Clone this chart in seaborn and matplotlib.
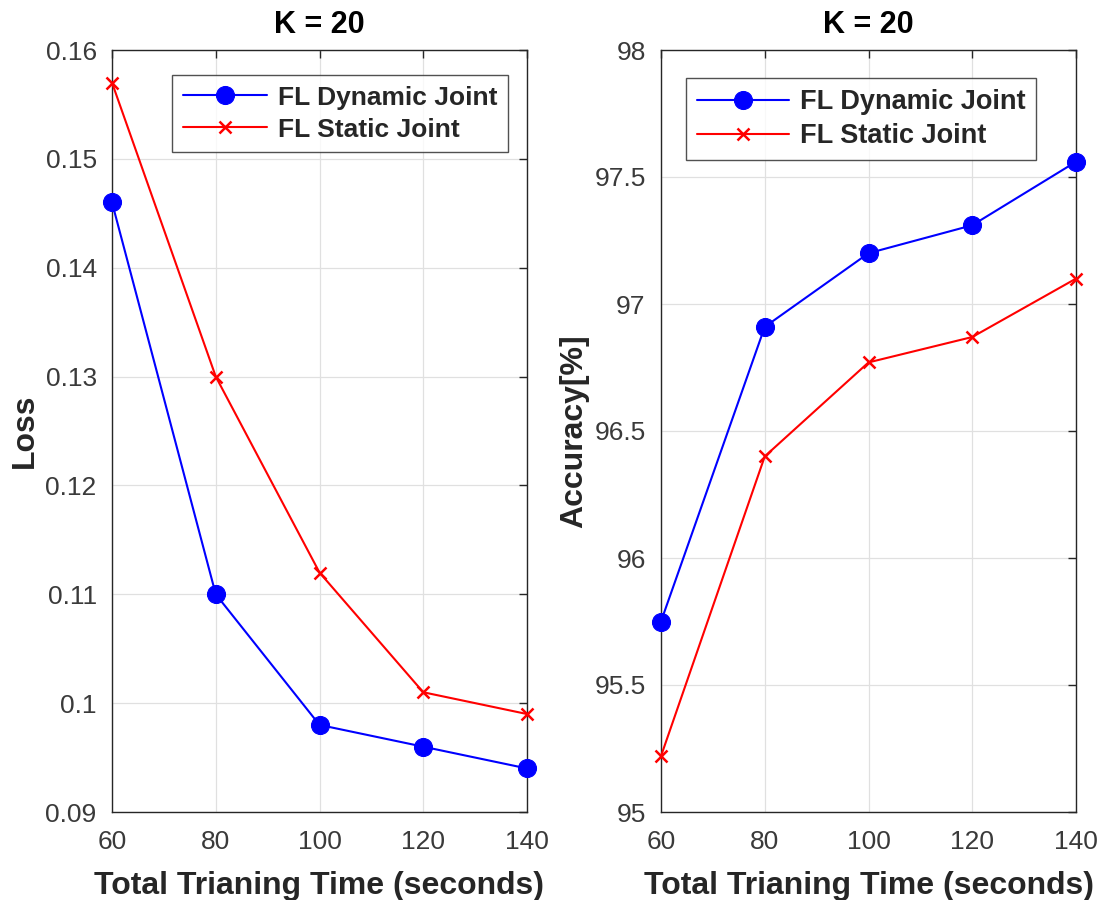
import matplotlib
matplotlib.use("Agg")
import matplotlib.pyplot as plt
import seaborn as sns
import pandas as pd

time_s = [60, 80, 100, 120, 140]
loss_dynamic = [0.146, 0.110, 0.098, 0.096, 0.094]
loss_static = [0.157, 0.130, 0.112, 0.101, 0.099]
acc_dynamic = [95.75, 96.91, 97.20, 97.31, 97.56]
acc_static = [95.22, 96.40, 96.77, 96.87, 97.10]
series_names = ["FL Dynamic Joint", "FL Static Joint"]
loss_ticks = [0.09, 0.10, 0.11, 0.12, 0.13, 0.14, 0.15, 0.16]
loss_ticklabels = ["0.09", "0.1", "0.11", "0.12", "0.13", "0.14", "0.15", "0.16"]
acc_ticks = [95, 95.5, 96, 96.5, 97, 97.5, 98]
acc_ticklabels = ["95", "95.5", "96", "96.5", "97", "97.5", "98"]

sns.set_style("white")
plt.rcParams['font.family'] = ['Liberation Sans', 'DejaVu Sans']

fig = plt.figure(figsize=(11.02, 9.0), dpi=100)
W, H = 1102, 900
axL = fig.add_axes([112 / W, 1 - 812 / H, 415 / W, 762 / H])
axR = fig.add_axes([661 / W, 1 - 812 / H, 415 / W, 762 / H])

tick_col = "#262626"
label_col = "#3a3a3a"

def draw(ax, dyn, sta, ylim, yticks, yticklabels, ylabel, legend_loc, leg_fs, leg_hl):
    df_d = pd.DataFrame({"t": time_s, "v": dyn})
    df_s = pd.DataFrame({"t": time_s, "v": sta})
    sns.lineplot(data=df_d, x="t", y="v", ax=ax, color="#0000ff", marker="o",
                 markersize=13, markeredgecolor="#0000ff", linewidth=1.5,
                 label=series_names[0], clip_on=False, zorder=3)
    sns.lineplot(data=df_s, x="t", y="v", ax=ax, color="#ff0000", marker="x",
                 markersize=9, markeredgewidth=1.8, markeredgecolor="#ff0000",
                 linewidth=1.5, label=series_names[1], clip_on=False, zorder=3)
    ax.set_xlim(60, 140)
    ax.set_ylim(*ylim)
    ax.set_xticks(time_s)
    ax.set_xticklabels([str(t) for t in time_s])
    ax.set_yticks(yticks)
    ax.set_yticklabels(yticklabels)
    ax.grid(True, color="#e0e0e0", linewidth=0.9)
    ax.tick_params(direction="in", length=6, width=1.0, colors=tick_col,
                   labelsize=19, top=True, right=True, labelcolor=label_col)
    ax.tick_params(axis="y", pad=11)
    ax.tick_params(axis="x", pad=13)
    for s in ax.spines.values():
        s.set_color(tick_col)
        s.set_linewidth(1.0)
    ax.set_xlabel("Total Trianing Time (seconds)", fontsize=23, fontweight="bold",
                  color=tick_col, labelpad=12)
    ax.set_ylabel(ylabel, fontsize=23, fontweight="bold", color=tick_col, labelpad=4)
    ax.set_title("K = 20", fontsize=22, fontweight="bold", color="black", pad=12)
    leg = ax.legend(loc="upper left", bbox_to_anchor=legend_loc, fontsize=leg_fs,
                    frameon=True, fancybox=False, edgecolor="#262626",
                    handlelength=leg_hl, borderpad=0.4, labelspacing=0.3,
                    handletextpad=0.4, borderaxespad=0)
    leg.get_frame().set_linewidth(1.0)
    for t in leg.get_texts():
        t.set_fontweight("bold")

draw(axL, loss_dynamic, loss_static, (0.09, 0.16), loss_ticks, loss_ticklabels,
     "Loss", (0.145, 0.967), 19, 3.2)
draw(axR, acc_dynamic, acc_static, (95, 98), acc_ticks, acc_ticklabels,
     "Accuracy[%]", (0.06, 0.963), 19.5, 3.4)

fig.savefig("out.png", dpi=100)
